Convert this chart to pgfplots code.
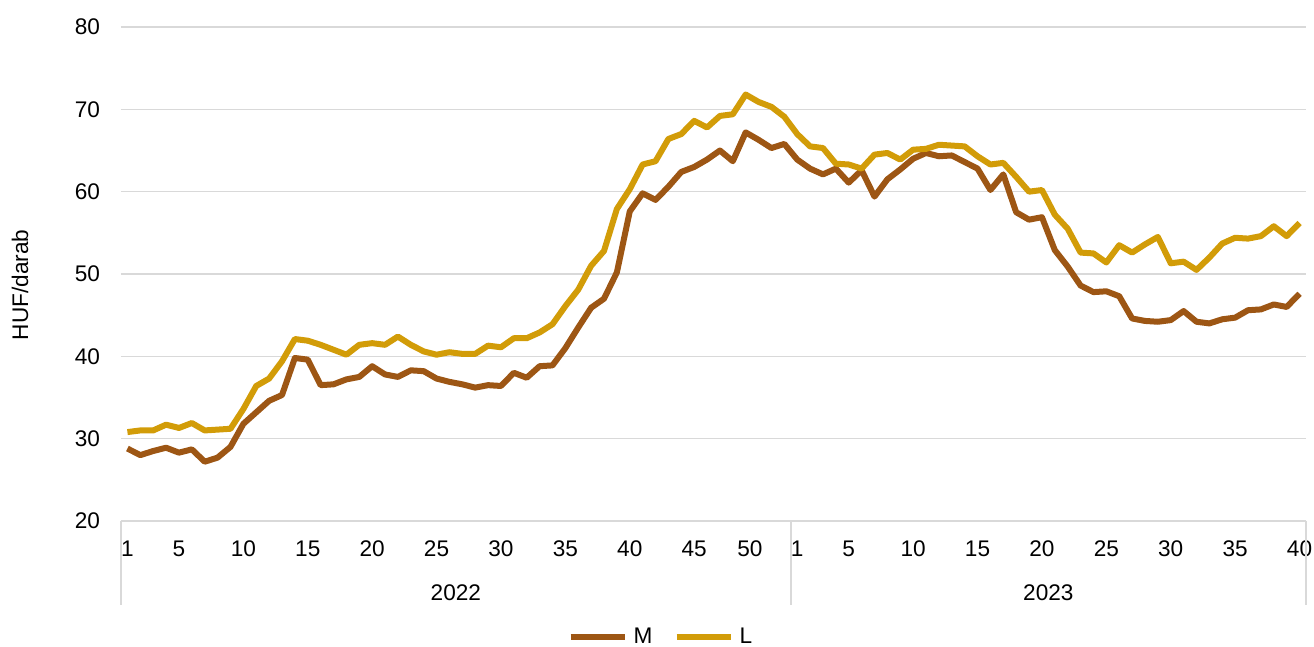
\documentclass[border=0pt]{standalone}
\usepackage{fontspec}
\setmainfont{Liberation Sans}
\usepackage{pgfplots}
\usepackage{pgfplotstable}
\pgfplotsset{compat=1.18}
\definecolor{colM}{RGB}{157,86,20}
\definecolor{colL}{RGB}{210,156,8}
\definecolor{gridc}{RGB}{217,217,217}
\newcommand{\fs}{\fontsize{11.3}{13}\selectfont}
\pgfplotstableread{
idx M L
0 28.8 30.8
1 28.0 31.0
2 28.5 31.0
3 28.9 31.7
4 28.3 31.3
5 28.7 31.9
6 27.2 31.0
7 27.7 31.1
8 29.0 31.2
9 31.8 33.6
10 33.2 36.4
11 34.6 37.3
12 35.3 39.4
13 39.8 42.1
14 39.6 41.9
15 36.5 41.4
16 36.6 40.8
17 37.2 40.2
18 37.5 41.4
19 38.8 41.6
20 37.8 41.4
21 37.5 42.4
22 38.3 41.4
23 38.2 40.6
24 37.3 40.2
25 36.9 40.5
26 36.6 40.3
27 36.2 40.3
28 36.5 41.3
29 36.4 41.1
30 38.0 42.2
31 37.4 42.2
32 38.8 42.9
33 38.9 43.9
34 41.0 46.1
35 43.5 48.1
36 45.9 51.0
37 47.0 52.8
38 50.2 57.9
39 57.6 60.3
40 59.8 63.3
41 59.0 63.7
42 60.6 66.4
43 62.4 67.0
44 63.0 68.6
45 63.9 67.8
46 65.0 69.2
47 63.7 69.4
48 67.2 71.8
49 66.3 70.9
50 65.3 70.3
51 65.8 69.1
52 63.9 67.0
53 62.8 65.5
54 62.1 65.3
55 62.8 63.4
56 61.1 63.3
57 62.6 62.8
58 59.4 64.5
59 61.5 64.7
60 62.7 63.9
61 64.0 65.1
62 64.7 65.2
63 64.3 65.7
64 64.4 65.6
65 63.6 65.5
66 62.8 64.3
67 60.2 63.3
68 62.1 63.5
69 57.5 61.8
70 56.6 60.0
71 56.9 60.2
72 52.9 57.2
73 50.9 55.5
74 48.6 52.6
75 47.8 52.5
76 47.9 51.4
77 47.3 53.5
78 44.6 52.6
79 44.3 53.6
80 44.2 54.5
81 44.4 51.3
82 45.5 51.5
83 44.2 50.5
84 44.0 52.0
85 44.5 53.7
86 44.7 54.4
87 45.6 54.3
88 45.7 54.6
89 46.3 55.8
90 46.0 54.6
91 47.6 56.2
}\datatable
\begin{document}
\begin{tikzpicture}
\begin{axis}[
  scale only axis,
  width=592.5pt, height=247pt,
  xmin=-0.5, xmax=91.5,
  ymin=20, ymax=80,
  ytick={20,30,40,50,60,70,80},
  xtick={0,4,9,14,19,24,29,34,39,44,49,52,56,61,66,71,76,81,86,91},
  xticklabels={1,5,10,15,20,25,30,35,40,45,{},1,5,10,15,20,25,30,35,40},
  major tick length=0pt,
  ymajorgrids,
  grid style={gridc, line width=0.75pt},
  axis x line*=bottom,
  axis y line*=left,
  y axis line style={draw=none},
  x axis line style={gridc, line width=0.75pt, -},
  font=\fs,
  /pgf/number format/assume math mode=true,
  xticklabel style={anchor=base, yshift=-18pt, font=\fs},
  yticklabel style={xshift=-7pt, font=\fs},
  ylabel={HUF/darab},
  ylabel style={at={(axis description cs:-0.0852,0.478)}, anchor=center, font=\fs},
  clip=false,
  legend columns=2,
  legend style={draw=none, fill=none, at={(axis description cs:0.4565,-0.235)}, anchor=center, font=\fs,
    /tikz/every even column/.append style={column sep=8.5pt},
    /tikz/every odd column/.append style={column sep=1pt}},
  legend image code/.code={\draw[#1, line width=3pt] (0pt,0pt) -- (27pt,0pt);},
]
\addplot[colM, line width=3pt, line join=round] table[x=idx, y=M] {\datatable};
\addlegendentry{M}
\addplot[colL, line width=3pt, line join=round] table[x=idx, y=L] {\datatable};
\addlegendentry{L}
\draw[gridc, line width=0.75pt] (axis cs:-0.5,20) -- ([yshift=-42pt]axis cs:-0.5,20);
\draw[gridc, line width=0.75pt] (axis cs:51.5,20) -- ([yshift=-42pt]axis cs:51.5,20);
\draw[gridc, line width=0.75pt] (axis cs:91.5,20) -- ([yshift=-42pt]axis cs:91.5,20);
\node[font=\fs, anchor=base] at ([yshift=-18pt, xshift=-4.3pt]axis cs:49,20) {50};
\node[font=\fs] at ([yshift=-36pt]axis cs:25.5,20) {2022};
\node[font=\fs] at ([yshift=-36pt]axis cs:71.5,20) {2023};
\coordinate (BL) at (rel axis cs:0,0);
\end{axis}
\pgfresetboundingbox
\path[use as bounding box] ([shift={(-60.5pt,-63pt)}]BL) rectangle ([shift={(596.5pt,260.5pt)}]BL);
\end{tikzpicture}
\end{document}
